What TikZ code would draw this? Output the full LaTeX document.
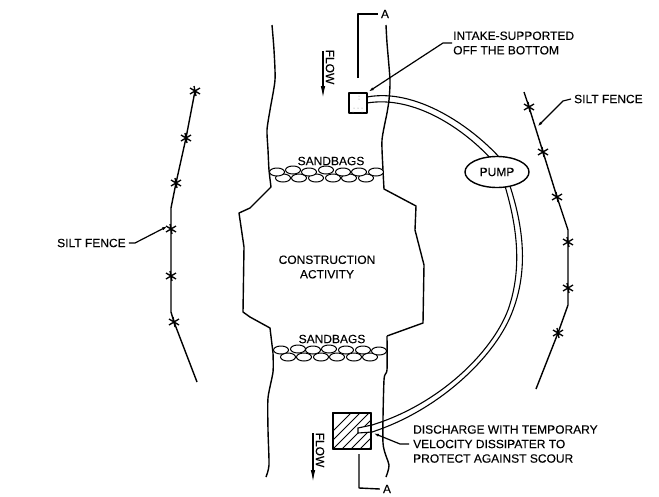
\documentclass[tikz,border=0pt]{standalone}
\usepackage{fontspec}
\setmainfont{Liberation Sans}[FakeBold=0.15]
\usetikzlibrary{arrows.meta,patterns,shapes.geometric}
\tikzset{
  ln/.style={line width=1.4pt,line join=round},
  thin ln/.style={line width=1.1pt},
  lab/.style={font=\fontsize{12}{14.5}\selectfont,inner sep=0pt,align=left,anchor=west},
  captext/.style={font=\fontsize{12}{14.5}\selectfont,inner sep=0pt,align=center},
  bag/.style={draw,ellipse,line width=1pt,minimum width=15pt,minimum height=8pt,inner sep=0pt,fill=white},
  leader/.style={line width=1.2pt,-{Latex[length=6pt,width=3pt]}},
  flowarrow/.style={line width=1.2pt,-{Latex[length=12pt,width=4.5pt]}},
  hatchline/.style={line width=0.9pt},
}
\newcommand{\fencemark}[2]{%
  \draw[line width=1.3pt] (#1-5,#2-3) -- (#1+5,#2+3)
     (#1-5,#2+3) -- (#1+5,#2-3)
     (#1-1,#2-5) -- (#1+1,#2+5);}
\begin{document}
\begin{tikzpicture}[x=1pt,y=-1pt]
\useasboundingbox (0,0) rectangle (659,496);
% banks
\draw[ln] plot[smooth,tension=0.4] coordinates {(272,25)(274,50)(275,80)(270,110)(267,130)(268,150)(269,170)(271,187)}
  -- (250,208) -- (239,213) -- (244,247) -- (243,312) -- (250,317) -- (270,328) -- (273,353)
  plot[smooth,tension=0.4] coordinates {(273,353)(273,372)(268,398)(268,430)(269,465)(266,477)};
\draw[ln] plot[smooth,tension=0.4] coordinates {(386,25)(387,43)(390,80)(389,100)(387,113)(382,140)(383,170)(384,189)}
  -- (416,206) -- (415,230) -- (424,265) -- (423,323) -- (387,336)
  plot[smooth,tension=0.4] coordinates {(387,336)(387,370)(384,380)(383,443)(389,465)(386,477)};
% sandbags top
\foreach \i/\x/\y in {a/283/178,b/299/178,c/316/178,d/333/178,e/349/178,f/366/178,g/277/172,h/293/170,i/309/172,j/326/170,k/343/172,l/359/172,m/376/172}
  \node[bag] (t\i) at (\x,\y) {};
% sandbags bottom
\foreach \i/\x/\y in {a/288/357,b/304/357,c/321/357,d/337/357,e/354/357,f/370/357,g/281/350,h/298/349,i/313/350,j/329/349,k/346/350,l/363/350,m/379/351}
  \node[bag] (b\i) at (\x,\y) {};
\node[captext] (sb1) at (331,161) {SANDBAGS};
\node[captext] (sb2) at (332,339) {SANDBAGS};
\node[captext] (ca) at (327,267) {CONSTRUCTION\\ACTIVITY};
% pipe
\draw[thin ln] (367,97) .. controls (415,88) and (470,125) .. (500,158);
\draw[thin ln] (367,103) .. controls (415,95) and (465,130) .. (492,160);
\draw[thin ln] (510,186) .. controls (521,220) and (530,265) .. (513,310) .. controls (497,355) and (440,410) .. (372,432);
\draw[thin ln] (505,186) .. controls (515,220) and (524,265) .. (508,310) .. controls (492,352) and (440,404) .. (372,425);
% intake
\node[draw,ln,line width=1.2pt,minimum width=18pt,minimum height=20pt,inner sep=0pt] (intake) at (358,103) {};
\foreach \x/\y in {359/96,359/99,354/108,358/108,362/108,353/112,362/112}
  \fill[gray] (\x,\y) circle (0.5pt);
% discharge
\node[draw,ln,minimum width=38pt,minimum height=36pt,inner sep=0pt] (dis) at (352,431) {};
\begin{scope}
\clip (333,413) rectangle (371,449);
\foreach \k in {-1,...,9}
  \draw[hatchline] (333+\k*9-9,449) -- (333+\k*9+27,413);
\fill[white] (358,428) -- (372,425) -- (372,432) -- (358,433) -- cycle;
\end{scope}
\draw[ln] (333,413) rectangle (371,449);
\draw[thin ln] (372,425) -- (358,428) -- (358,433) -- (372,432);
% pump
\node[draw,ln,ellipse,minimum width=64pt,minimum height=31pt,inner sep=0pt,fill=white,font=\fontsize{12}{14}\selectfont] (pump) at (497,172) {PUMP};
% section A
\node[captext] (a1) at (385,14) {A};
\node[captext] (a2) at (387,489) {A};
\coordinate (a1s) at (358,78);
\coordinate (a1c) at (358,14);
\coordinate (a2s) at (359,454);
\coordinate (a2c) at (359,488);
\draw[ln] (a1s) -- (a1c) -- ([xshift=-3pt]a1.west);
\draw[ln] (a2s) -- (a2c) -- ([xshift=-3pt]a2.west);
% flow
\coordinate (f1s) at (323,51); \coordinate (f1e) at (323,98);
\coordinate (f2s) at (313,433); \coordinate (f2e) at (313,482);
\draw[flowarrow] (f1s) -- (f1e);
\draw[flowarrow] (f2s) -- (f2e);
\node[captext,rotate=-90] (fl1) at (330,67) {FLOW};
\node[captext,rotate=-90] (fl2) at (320,450) {FLOW};
% fences
\draw[ln] (195,91) -- (186,138) -- (176,183) -- (171,208) -- (171,312) -- (174,322) -- (197,382);
\foreach \x/\y in {195/91,186/138,176/183,171/229,171/276,174/322} {\fencemark{\x}{\y}}
\draw[ln] (524,92) -- (529,107) -- (543,152) -- (557,197) -- (568,230) -- (568,305) -- (558,333) -- (536,389);
\foreach \x/\y in {529/107,543/152,557/197,568/242,568/288,558/333} {\fencemark{\x}{\y}}
% labels
\node[lab] (tI) at (453,43) {INTAKE-SUPPORTED\\OFF THE BOTTOM};
\node[lab] (tD) at (413,444) {DISCHARGE WITH TEMPORARY\\VELOCITY DISSIPATER TO\\PROTECT AGAINST SCOUR};
\node[lab] (tL) at (57,243) {SILT FENCE};
\node[lab] (tR) at (574,99) {SILT FENCE};
\coordinate (lIa) at (368,92); \coordinate (lIb) at (443,43);
\coordinate (lDa) at (373,433); \coordinate (lDb) at (400,444);
\coordinate (lLa) at (168,226); \coordinate (lLb) at (135,243);
\coordinate (lRa) at (537,127); \coordinate (lRb) at (563,101);
\draw[leader] ([xshift=-1pt]tI.west) -- (lIb) -- (lIa);
\draw[leader] ([xshift=-4pt]tD.west) -- (lDb) -- (lDa);
\draw[leader] ([xshift=3pt]tL.east) -- (lLb) -- (lLa);
\draw[leader] ([xshift=-3pt]tR.west) -- (lRb) -- (lRa);
\end{tikzpicture}
\end{document}
